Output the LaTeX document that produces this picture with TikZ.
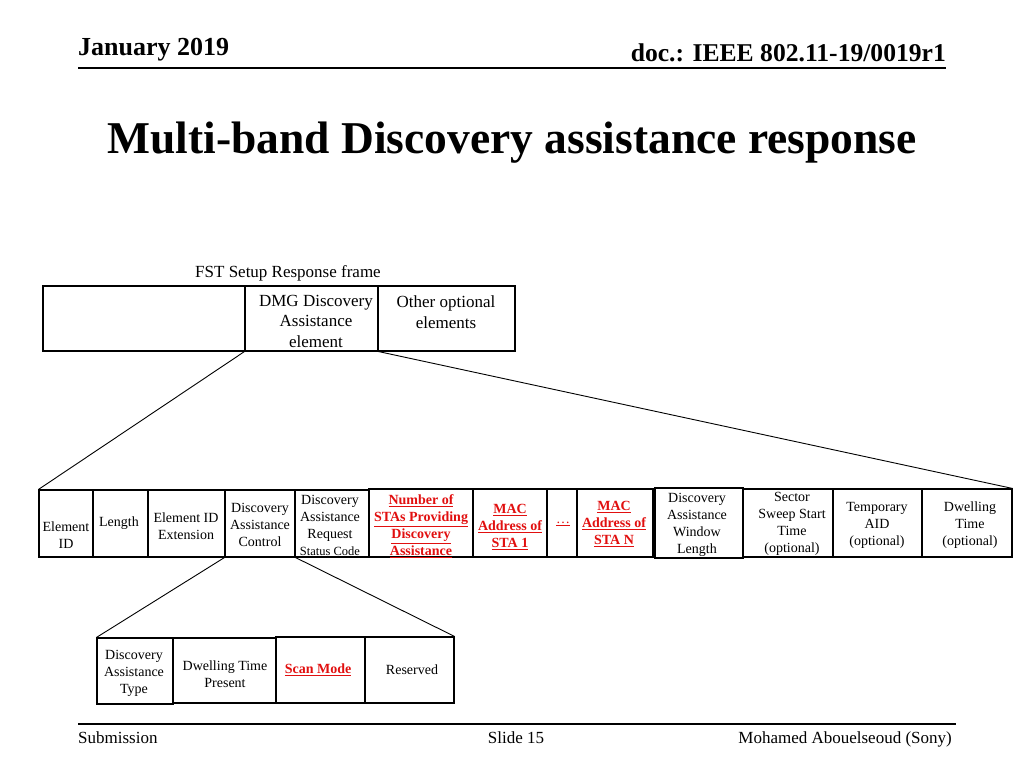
\documentclass[tikz,border=0pt]{standalone}
\usepackage{fontspec}
\setmainfont{Liberation Serif}
\usetikzlibrary{fit}
\definecolor{fieldred}{RGB}{225,15,15}
\tikzset{
  fld/.style={draw, line width=1.1pt, inner sep=0pt},
  conn/.style={draw, line width=0.9pt},
  rule/.style={draw, line width=1.4pt},
  ftxt/.style={align=center, inner sep=0pt, font=\fontsize{14}{17}\selectfont},
  utxt/.style={align=center, inner sep=0pt, font=\fontsize{17}{20.5}\selectfont},
  rtxt/.style={align=center, inner sep=0pt, text=fieldred, font=\fontsize{14}{17}\selectfont\bfseries},
}
\newcommand\smcode[1]{{\fontsize{12.5}{17}\selectfont #1}}
\newcommand\ru[1]{\underline{#1}}
\begin{document}
\begin{tikzpicture}[x=1pt,y=-1pt]
\useasboundingbox (0,0) rectangle (1024,768);
% header
\node[anchor=base west, inner sep=0pt, font=\fontsize{26}{30}\selectfont\bfseries] (hdate) at (78,56) {January 2019};
\node[anchor=base east, inner sep=0pt, font=\fontsize{25.6}{30}\selectfont\bfseries] (hdoc) at (946,62) {doc.: IEEE 802.11-19/0019r1};
\draw[rule] (78,68) -- (946,68);
\node[anchor=base, inner sep=0pt, font=\fontsize{45.5}{50}\selectfont\bfseries] (title) at (512,153) {Multi-band Discovery assistance response};
% footer
\draw[rule] (78,724) -- (956,724);
\node[anchor=base west, inner sep=0pt, font=\fontsize{17}{20}\selectfont] (fsub) at (78,743) {Submission};
\node[anchor=base, inner sep=0pt, font=\fontsize{17}{20}\selectfont] (fslide) at (516,743) {Slide 15};
\node[anchor=base east, inner sep=0pt, font=\fontsize{17}{20}\selectfont] (fauth) at (952,743) {Mohamed Abouelseoud (Sony)};

% upper frame
\node[anchor=base, inner sep=0pt, font=\fontsize{17}{20}\selectfont] (fstlbl) at (288,277) {FST Setup Response frame};
\node[fld, fit={(43,286) (245,351)}] (fst0) {};
\node[fld, fit={(245,286) (378,351)}] (dmg) {};
\node[fld, fit={(378,286) (515,351)}] (oth) {};
\node[utxt] (dmgT) at (316,321) {DMG Discovery\\Assistance\\element};
\node[utxt] (othT) at (446,312) {Other optional\\elements};

% middle row
\node[fld, fit={(39,490) (93,557)}] (eid) {};
\node[fld, fit={(93,490) (148,557)}] (len) {};
\node[fld, fit={(148,490) (225,557)}] (eidx) {};
\node[fld, fit={(225,490) (295,557)}] (dac) {};
\node[fld, fit={(295,490) (369,557)}] (dar) {};
\node[fld, fit={(369,489) (473,557)}] (nsta) {};
\node[fld, fit={(473,489) (547,557)}] (mac1) {};
\node[fld, fit={(547,489) (577,557)}] (dots) {};
\node[fld, fit={(577,489) (653,557)}] (macn) {};
\node[fld, fit={(655,488) (743,558)}] (dawl) {};
\node[fld, fit={(743,489) (833,557)}] (ssst) {};
\node[fld, fit={(833,489) (922,557)}] (taid) {};
\node[fld, fit={(922,489) (1012,557)}] (dwt) {};

\node[ftxt] (eidT) at (66,535) {Element\\ID};
\node[ftxt] (lenT) at (119,523) {Length};
\node[ftxt] (eidxT) at (186,526) {Element ID\\Extension};
\node[ftxt] (dacT) at (260,525) {Discovery\\Assistance\\Control};
\node[ftxt] (darT) at (330,525) {Discovery\\Assistance\\Request\\\smcode{Status Code}};
\node[rtxt] (nstaT) at (421,526) {\ru{Number of}\\\ru{STAs Providing}\\\ru{Discovery}\\\ru{Assistance}};
\node[rtxt] (mac1T) at (510,527) {\ru{MAC}\\\ru{Address of}\\\ru{STA 1}};
\node[rtxt, font=\fontsize{14}{17}\selectfont] (dotsT) at (563,524) {\ru{\dots}};
\node[rtxt] (macnT) at (614,524) {\ru{MAC}\\\ru{Address of}\\\ru{STA N}};
\node[ftxt] (dawlT) at (697,525) {Discovery\\Assistance\\Window\\Length};
\node[ftxt] (ssstT) at (792,524) {Sector\\Sweep Start\\Time\\(optional)};
\node[ftxt] (taidT) at (877,525) {Temporary\\AID\\(optional)};
\node[ftxt] (dwtT) at (970,525) {Dwelling\\Time\\(optional)};

% bottom row
\node[fld, fit={(97,638) (173,704)}] (dat) {};
\node[fld, fit={(173,638) (276,703)}] (dtp) {};
\node[fld, fit={(276,637) (365,703)}] (scan) {};
\node[fld, fit={(365,637) (454,703)}] (rsv) {};
\node[ftxt] (datT) at (134,673) {Discovery\\Assistance\\Type};
\node[ftxt] (dtpT) at (225,674) {Dwelling Time\\Present};
\node[rtxt] (scanT) at (318,670) {\ru{Scan Mode}};
\node[ftxt] (rsvT) at (412,670) {Reserved};

% connectors
\draw[conn] (dmg.south west) -- (eid.north west);
\draw[conn] (dmg.south east) -- (dwt.north east);
\draw[conn] (dac.south west) -- (dat.north west);
\draw[conn] (dac.south east) -- (rsv.north east);
\end{tikzpicture}
\end{document}
